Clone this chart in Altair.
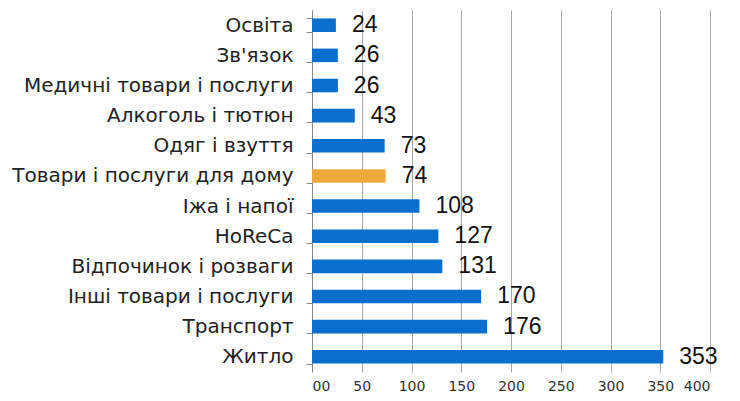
import altair as alt
import pandas as pd

categories = ["Освіта", "Зв'язок", "Медичні товари і послуги", "Алкоголь і тютюн",
              "Одяг і взуття", "Товари і послуги для дому", "Іжа і напої", "HoReCa",
              "Відпочинок і розваги", "Інші товари і послуги", "Транспорт", "Житло"]
values = [24, 26, 26, 43, 73, 74, 108, 127, 131, 170, 176, 353]
highlight = ["no", "no", "no", "no", "no", "yes", "no", "no", "no", "no", "no", "no"]

df = pd.DataFrame({"cat": categories, "val": values, "hl": highlight})

y = alt.Y("cat:N", sort=categories, title=None,
          scale=alt.Scale(paddingInner=0.55, paddingOuter=0.28),
          axis=alt.Axis(tickBand="extent", tickSize=6, domainColor="#888888",
                        tickColor="#888888", labelFontSize=20, labelFont="DejaVu Sans",
                        labelColor="#222222", labelPadding=13, grid=False, labelLimit=400))
x = alt.X("val:Q", title=None,
          scale=alt.Scale(domain=[0, 400]),
          axis=alt.Axis(values=[0, 50, 100, 150, 200, 250, 300, 350, 400],
                        labelExpr="datum.value == 0 ? '00' : datum.label",
                        grid=True, gridColor="#A6A6A6", domain=False, ticks=False,
                        labelFontSize=14, labelFont="DejaVu Sans", labelColor="#333333",
                        labelPadding=7))

bars = alt.Chart(df).mark_bar().encode(
    x=x, y=y,
    color=alt.Color("hl:N", scale=alt.Scale(domain=["no", "yes"], range=["#0A6FCC", "#F0A83A"]), legend=None),
)
labels = alt.Chart(df).mark_text(align="left", baseline="middle", dx=16, fontSize=23,
                                  font="Liberation Sans", color="#111111").encode(
    x="val:Q", y=alt.Y("cat:N", sort=categories), text="val:Q")

chart = (bars + labels).properties(
    width=398, height=362,
    autosize=alt.AutoSizeParams(type="none"),
    padding={"left": 304, "top": 2, "right": 20, "bottom": 28},
).configure_view(stroke=None)

chart.save("out.html", embed_options={"renderer": "svg", "actions": False})
